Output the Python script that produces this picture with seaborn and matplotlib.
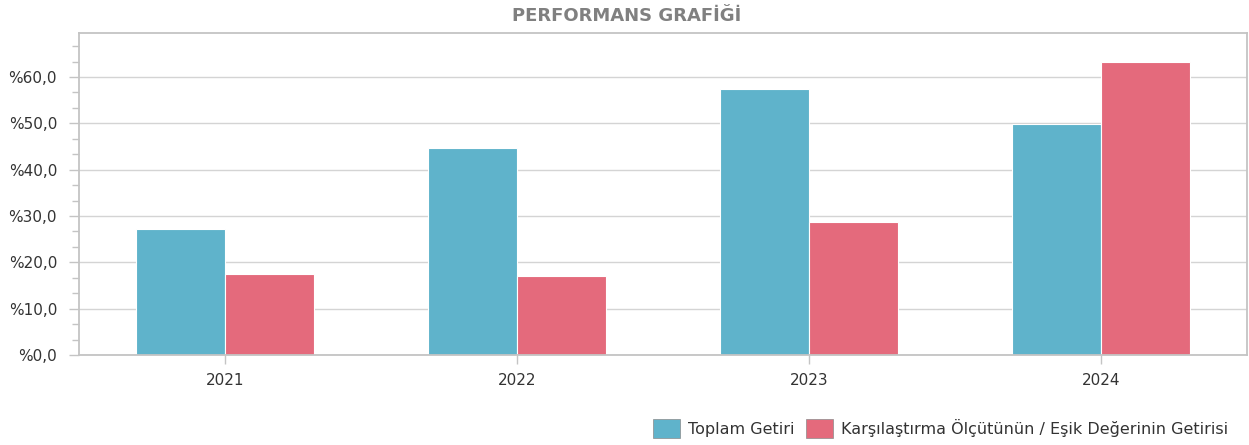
import matplotlib
matplotlib.use("Agg")
import matplotlib.pyplot as plt
import seaborn as sns
import pandas as pd
import numpy as np
from matplotlib.patches import Patch
from matplotlib.ticker import MultipleLocator, FuncFormatter

years = ["2021", "2022", "2023", "2024"]
toplam_getiri = [27.2, 44.7, 57.4, 49.9]
karsilastirma = [17.5, 17.1, 28.7, 63.2]
series_names = ["Toplam Getiri", "Karşılaştırma Ölçütünün / Eşik Değerinin Getirisi"]
title = "PERFORMANS GRAFİĞİ"

df = pd.DataFrame({
    "Yıl": years * 2,
    "Getiri": toplam_getiri + karsilastirma,
    "Seri": [series_names[0]] * len(years) + [series_names[1]] * len(years),
})

sns.set_style("white")
plt.rcParams['font.family'] = ['DejaVu Sans']

colors = ["#5FB3CB", "#E46A7C"]
fig = plt.figure(figsize=(12.49, 4.45), dpi=100)
ax = fig.add_axes([79/1249, 1 - 355/445, (1247-79)/1249, (355-33)/445])

sns.barplot(data=df, x="Yıl", y="Getiri", hue="Seri", palette=colors, ax=ax,
            width=0.61, gap=0, edgecolor="white", linewidth=0.8, saturation=1,
            legend=False)

ax.set_ylim(0, 69.5)
ax.set_xlim(-0.5, 3.5)
ax.yaxis.set_major_locator(MultipleLocator(10))
ax.yaxis.set_minor_locator(MultipleLocator(10/3))
ax.yaxis.set_major_formatter(FuncFormatter(lambda v, p: "%" + f"{v:.1f}".replace(".", ",")))
ax.grid(axis="y", which="major", color="#d4d4d4", linewidth=1)
ax.set_axisbelow(True)
ax.set_xlabel("")
ax.set_ylabel("")
for s in ax.spines.values():
    s.set_color("#c4c4c4")
    s.set_linewidth(1.3)
ax.tick_params(axis="y", which="major", length=7.2, width=1, color="#c4c4c4",
               labelsize=11, labelcolor="#333333", pad=8.6, left=True)
ax.tick_params(axis="y", which="minor", length=5, width=1, color="#c4c4c4", left=True)
ax.tick_params(axis="x", which="major", length=6.5, width=1, color="#c4c4c4",
               labelsize=11, labelcolor="#333333", pad=6.5, bottom=True)

fig.text(627/1249, 1 - 16/445, title, ha="center", va="center",
         fontsize=13, fontweight="bold", color="#808080")

handles = [Patch(facecolor=colors[0], edgecolor="#8a8a8a", linewidth=0.5),
           Patch(facecolor=colors[1], edgecolor="#8a8a8a", linewidth=0.5)]
fig.legend(handles, series_names, loc="lower right", bbox_to_anchor=(1238/1249, -0.006),
           ncol=2, frameon=False, fontsize=11.5, handlelength=1.7, handleheight=1.5,
           handletextpad=0.5, columnspacing=0.7, labelcolor="#333333", borderaxespad=0.2)

fig.savefig("out.png", dpi=100)
